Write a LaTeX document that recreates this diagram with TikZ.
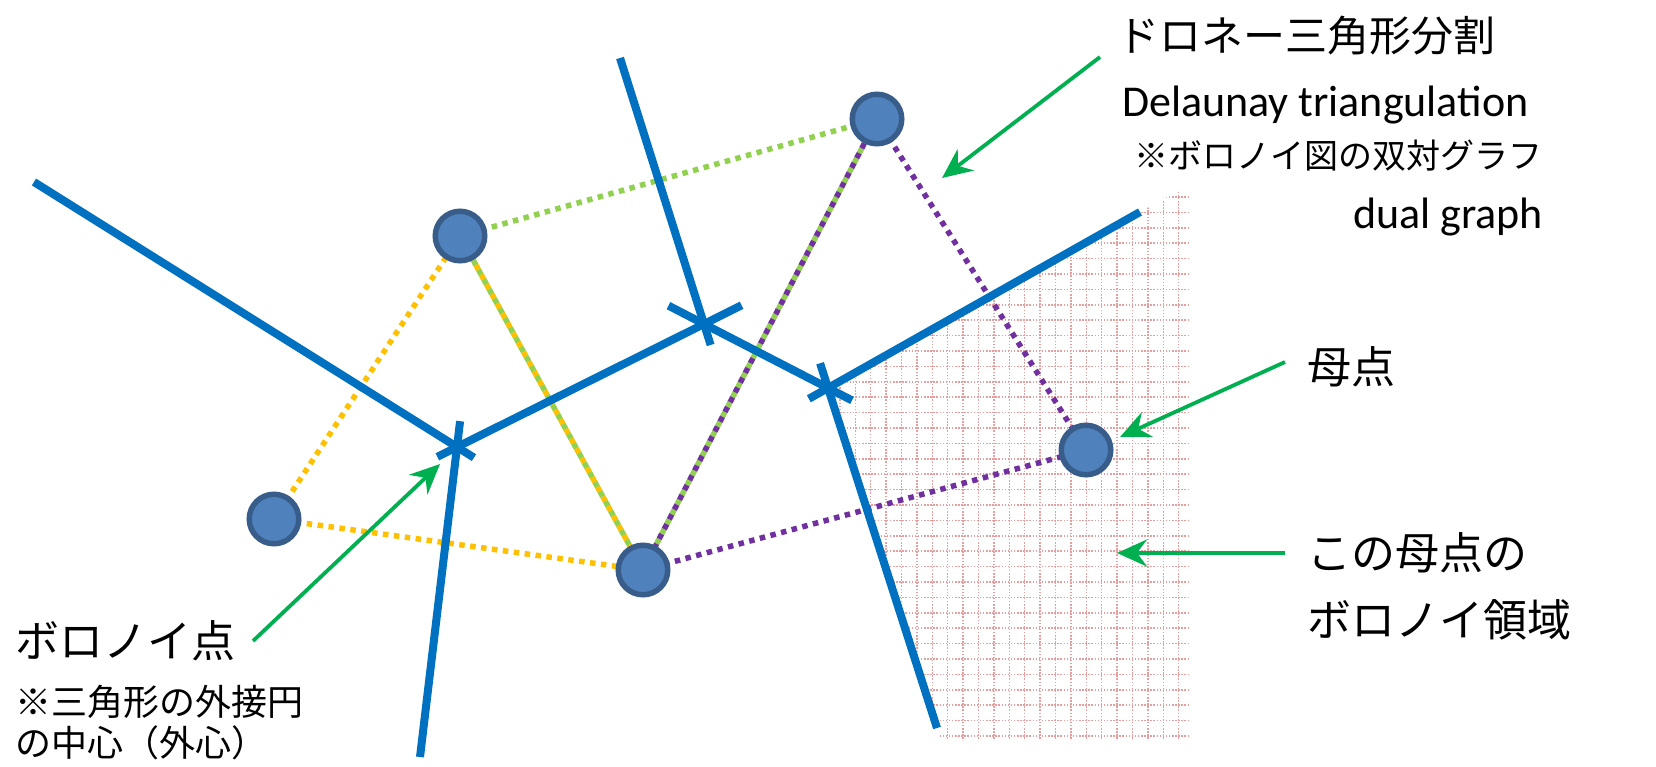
\documentclass[tikz,border=0pt]{standalone}
\usepackage{fontspec}
\setmainfont{Carlito}
\newfontfamily\jp{Noto Sans CJK JP}
\usetikzlibrary{calc,arrows.meta}
\definecolor{vblue}{HTML}{0070C0}
\definecolor{cfill}{HTML}{4F81BD}
\definecolor{cdraw}{HTML}{385D8A}
\definecolor{dyel}{HTML}{FFC000}
\definecolor{dgrn}{HTML}{92D050}
\definecolor{dpur}{HTML}{7030A0}
\definecolor{agrn}{HTML}{00B050}
\definecolor{gridpink}{RGB}{230,158,158}
\begin{document}
\begin{tikzpicture}[x=1pt,y=-1pt,
  site/.style={circle, fill=cfill, draw=cdraw, line width=5.5pt, minimum size=49.5pt, inner sep=0pt},
  vedge/.style={draw=vblue, line width=8pt},
  dline/.style={line width=5.5pt, dash pattern=on 5.5pt off 5.5pt},
  callout/.style={draw=agrn, line width=3.8pt, -{Stealth[length=30pt,width=27pt,inset=10pt]}},
  gridline/.style={draw=gridpink, line width=1.5pt, dash pattern=on 1.5pt off 1.6pt},
  jlabel/.style={inner sep=0pt, anchor=west, font=\jp\fontsize{44}{52}\selectfont},
  elabel/.style={inner sep=0pt, font=\fontsize{44}{52}\selectfont}]
\useasboundingbox (0,0) rectangle (1656,766);

% sites
\coordinate (A) at (460,236);
\coordinate (B) at (877,119);
\coordinate (C) at (274,519);
\coordinate (D) at (643,570);
\coordinate (E) at (1086,450);

% Voronoi vertices and ends
\coordinate (V1) at (457,447);
\coordinate (V2) at (704,324);
\coordinate (V3) at (828,388);
\coordinate (L1) at (34,182);
\coordinate (D1) at (420,757);
\coordinate (T2) at (620,58);
\coordinate (R3) at (1140,212);
\coordinate (D3) at (937,728);

% region pattern
\coordinate (P1) at (1190,184);
\coordinate (P2) at (1190,740);
\coordinate (P3) at (941,740);
\begin{scope}
  \clip (V3) -- (P1) -- (P2) -- (P3) -- cycle;
  \foreach \k in {0,...,37}
    \draw[gridline] (800,{736-15.4*\k}) -- (1195,{736-15.4*\k});
  \foreach \k in {0,...,25}
    \draw[gridline] ({1178.7-15.4*\k},170) -- ({1178.7-15.4*\k},745);
\end{scope}

% Delaunay edges
\draw[dline, dyel] (C) -- (A);
\draw[dline, dyel] (C) -- (D);
\draw[dline, dyel] (A) -- (D);
\draw[dline, dgrn, dash phase=5.5pt] (A) -- (D);
\draw[dline, dgrn] (A) -- (B);
\draw[dline, dgrn] (B) -- (D);
\draw[dline, dpur, dash phase=5.5pt] (B) -- (D);
\draw[dline, dpur] (B) -- (E);
\draw[dline, dpur] (D) -- (E);

% Voronoi edges
\draw[vedge] (L1) -- ($(V1)!-20pt!(L1)$);
\draw[vedge] (D1) -- ($(V1)!-26pt!(D1)$);
\draw[vedge] ($(V1)!-22pt!(V2)$) -- ($(V2)!-42pt!(V1)$);
\draw[vedge] (T2) -- ($(V2)!-22pt!(T2)$);
\draw[vedge] ($(V2)!-40pt!(V3)$) -- ($(V3)!-27pt!(V2)$);
\draw[vedge] (R3) -- ($(V3)!-22pt!(R3)$);
\draw[vedge] (D3) -- ($(V3)!-26pt!(D3)$);

% site circles
\foreach \s in {A,B,C,D,E}
  \node[site] (c\s) at (\s) {};

% labels
\node[jlabel, font=\jp\fontsize{42}{50}\selectfont] (title) at (1117,36) {ドロネー三角形分割};
\node[elabel, anchor=base west] (delen) at (1122,116) {Delaunay triangulation};
\node[jlabel, anchor=east, font=\jp\fontsize{34}{40}\selectfont] (dual) at (1543,156) {※ボロノイ図の双対グラフ};
\node[elabel, anchor=base east] (dualen) at (1543,228) {dual graph};
\node[jlabel] (bo) at (1307,367) {母点};
\node[jlabel] (reg1) at (1307,553) {この母点の};
\node[jlabel] (reg2) at (1307,620) {ボロノイ領域};
\node[jlabel] (vp) at (15,641) {ボロノイ点};
\node[jlabel, font=\jp\fontsize{36}{42}\selectfont] (vp2) at (15,702) {※三角形の外接円};
\node[jlabel, font=\jp\fontsize{36}{42}\selectfont] (vp3) at (15,743) {の中心（外心）};

% callout arrows
\coordinate (a1s) at (253,641);
\coordinate (a1e) at (440,464);
\coordinate (a2s) at (1100,57);
\coordinate (a2e) at (942,178);
\coordinate (a3s) at (1285,362);
\coordinate (a3e) at (1120,437);
\coordinate (a4s) at (1285,553);
\coordinate (a4e) at (1117,553);
\draw[callout] (a1s) -- (a1e);
\draw[callout] (a2s) -- (a2e);
\draw[callout] (a3s) -- (a3e);
\draw[callout] (a4s) -- (a4e);
\end{tikzpicture}
\end{document}
